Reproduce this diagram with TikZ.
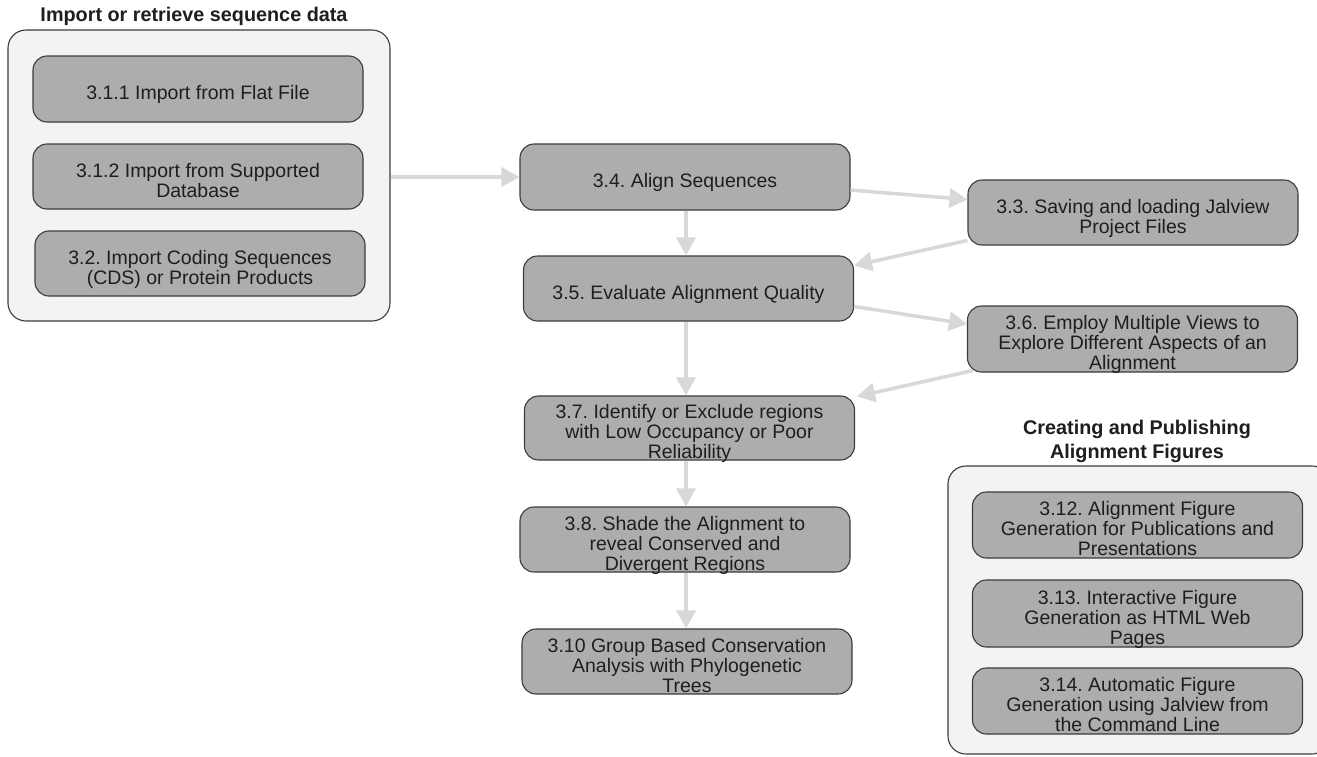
\documentclass[tikz,border=0pt]{standalone}
\usepackage{fontspec}
\setmainfont{Liberation Sans}
\usetikzlibrary{arrows.meta,calc}
\definecolor{boxfill}{HTML}{ADADAD}
\definecolor{grpfill}{HTML}{F2F3F3}
\definecolor{edgecol}{HTML}{3C3C3C}
\definecolor{arr}{HTML}{D8D8D8}
\definecolor{txt}{HTML}{1E1E1E}
\newcommand\boxlift{\rule{0pt}{21pt}}
\frenchspacing
\begin{document}
\begin{tikzpicture}[x=1pt,y=-1pt,
 stepbox/.style={draw=edgecol, fill=boxfill, line width=1.1pt, rounded corners=14pt,
   minimum width=330pt, minimum height=66pt, align=center, inner sep=0pt, text=txt,
   font=\fontsize{19.5}{20}\selectfont, text depth=0pt},
 group/.style={draw=edgecol, fill=grpfill, line width=1.1pt, rounded corners=18pt, inner sep=0pt},
 flow/.style={draw=arr, line width=3.5pt, -{Triangle[length=18pt,width=19pt]}},
 grptitle/.style={font=\bfseries\fontsize{19.8}{24}\selectfont, align=center, inner sep=0pt, text=txt}]
\useasboundingbox (0,0) rectangle (1317,756);
\fill[white] (0,0) rectangle (1317,756);

% groups
\node[group, minimum width=382pt, minimum height=291pt] (g1) at (199,175.5) {};
\node[grptitle] (t1) at (194,16) {Import or retrieve sequence data};
\begin{scope}
\clip (0,0) rectangle (1317,756);
\node[group, minimum width=382pt, minimum height=288pt] (g2) at (1139,610) {};
\end{scope}
\node[grptitle] (t2) at (1137,441) {Creating and Publishing\\Alignment Figures};

% group 1 steps
\node[stepbox] (n311) at (198,89) {\boxlift 3.1.1 Import from Flat File};
\node[stepbox, minimum height=65pt] (n312) at (198,176.5) {\boxlift 3.1.2 Import from Supported\\Database};
\node[stepbox, minimum height=65pt] (n32) at (200,263.5) {\boxlift 3.2. Import Coding Sequences\\(CDS) or Protein Products};

% main flow
\node[stepbox] (n34) at (685,177) {\boxlift 3.4. Align Sequences};
\node[stepbox, minimum height=65pt] (n33) at (1133,212.5) {\boxlift 3.3. Saving and loading Jalview\\Project Files};
\node[stepbox, minimum height=65pt] (n35) at (688.5,288.5) {\boxlift 3.5. Evaluate Alignment Quality};
\node[stepbox] (n36) at (1132.5,339) {\boxlift 3.6. Employ Multiple Views to\\Explore Different Aspects of an\\Alignment};
\node[stepbox, minimum height=64pt] (n37) at (689.5,428) {\boxlift 3.7. Identify or Exclude regions\\with Low Occupancy or Poor\\Reliability};
\node[stepbox, minimum height=65pt] (n38) at (685,539.5) {\boxlift 3.8. Shade the Alignment to\\reveal Conserved and\\Divergent Regions};
\node[stepbox, minimum height=65pt] (n310) at (687,661.5) {\boxlift 3.10 Group Based Conservation\\Analysis with Phylogenetic\\Trees};

% group 2 steps
\node[stepbox] (n3_12) at (1137.5,525) {\boxlift 3.12. Alignment Figure\\Generation for Publications and\\Presentations};
\node[stepbox, minimum height=67pt] (n3_13) at (1137.5,613.5) {\boxlift 3.13. Interactive Figure\\Generation as HTML Web\\Pages};
\node[stepbox] (n3_14) at (1137.5,701) {\boxlift 3.14. Automatic Figure\\Generation using Jalview from\\the Command Line};

% connectors
\coordinate (a1) at (686,0);
\draw[flow] (g1.east |- n34.west) -- (n34.west);
\draw[flow] ($(n34.east)+(0,13)$) -- ($(n33.west)+(0,-13)$);
\draw[flow] ($(n33.west)+(0,28)$) -- ($(n35.east)+(0,-23)$);
\draw[flow] ($(n35.east)+(0,18)$) -- ($(n36.west)+(0,-15)$);
\draw[flow] ($(n36.south west)+(6,-2)$) -- ($(n37.north east)+(2,1)$);
\draw[flow] (n34.south -| a1) -- (n35.north -| a1);
\draw[flow] (n35.south -| a1) -- (n37.north -| a1);
\draw[flow] (n37.south -| a1) -- (n38.north -| a1);
\draw[flow] (n38.south -| a1) -- (n310.north -| a1);
\end{tikzpicture}
\end{document}
